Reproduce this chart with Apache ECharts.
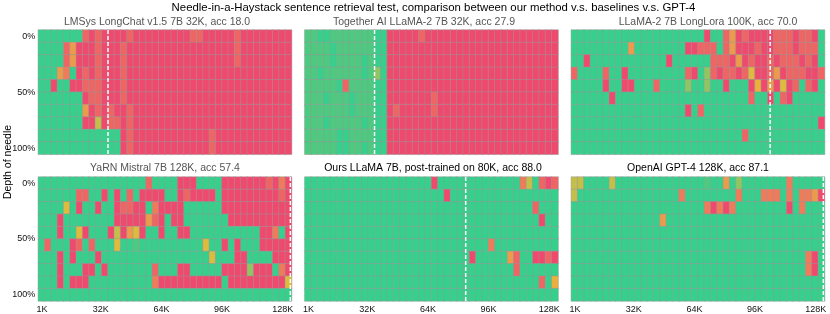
<!DOCTYPE html>
<html><head><meta charset="utf-8">
<script src="https://cdn.jsdelivr.net/npm/echarts@6/dist/echarts.min.js"></script>
<style>html,body{margin:0;padding:0;background:#fff}#c{width:830px;height:314px}</style>
</head><body><div id="c"></div>
<script>
// ---------------- data ----------------
const mainTitle = 'Needle-in-a-Haystack sentence retrieval test, comparison between our method v.s. baselines v.s. GPT-4';
const panelTitles = [
  'LMSys LongChat v1.5 7B 32K, acc 18.0',
  'Together AI LLaMA-2 7B 32K, acc 27.9',
  'LLaMA-2 7B LongLora 100K, acc 70.0',
  'YaRN Mistral 7B 128K, acc 57.4',
  'Ours LLaMA 7B, post-trained on 80K, acc 88.0',
  'OpenAI GPT-4 128K, acc 87.1'
];
const yAxisTitle = 'Depth of needle';
const trainLengthK = [32, 32, 100, 128, 80, 128];
const xTickValuesK = [1, 32, 64, 96, 128];
const yTickValuesPct = [0, 50, 100];
// scores: one string per needle depth (0% -> 100%), one digit per context length (1K -> 128K), 0 = fail ... 9 = perfect
const lmsys = [
  '9999999101000010000000001100000100000000',
  '9999130001000100000000000000000100000000',
  '9999130001000100000000000000000100000000',
  '9993290101000100000000000000000000000000',
  '9909900111000100000000000000000000000000',
  '9999999011000100000000000000000000000000',
  '9999999301010010000000000000000000000000',
  '9999999006011010000000000000000000000000',
  '9999999999999010000000000001000000000000',
  '9999999999999010000000000001000000000000'
];
const together = [
  '8899888888899000001000000000000000000000',
  '8888988888899000000000000000000000000000',
  '8888988889899000000000000000000000000000',
  '8898888889879000000000000000000000000000',
  '8888891888899000000000000000000000000000',
  '8889888988899000000010000000000000000000',
  '8888888988899010000010000000000000000000',
  '8889888889899000000000000000000000000000',
  '8888899888899000000000000000000000000000',
  '8888899889899000000000000000000000000000'
];
const longlora = [
  '9999999999999999999990991301000011101109',
  '9999999993999999990011191300010011101119',
  '9909999999999990999999111030100101110109',
  '1999919909999999991097101101500130111001',
  '9999909900999199997997990999040305019109',
  '9999990999999999999999999999199091099999',
  '9999999999999999990919999999999999999999',
  '9999999999999999999999999999999999999990',
  '9999999999999999999999999991999999999999',
  '9999999999999999999999999999999999999999'
];
const yarn = [
  '9999999999999999919999000999900000001020',
  '9999991199090919000099010000900000000010',
  '9999590990990110092000099999900000000000',
  '9990999999990000031090099999990000000000',
  '9990995099906035099099009999999999900290',
  '9199901919995998999999999959909099900000',
  '9990909990999999999999999995999009999000',
  '9990999009099999991999009999900007000920',
  '9990900099999999992000000000090000000005',
  '9999999999999999999999999999999999999999'
];
const ours = [
  '9999999999999999999909999999999999269101',
  '9999999999999999999999099999999999999999',
  '9999999999999999999999999999999999991999',
  '9999999999999999999999999999999999999099',
  '9999999999999999999999999999999999999999',
  '9999999999999999999999999999929999999999',
  '9999999999999999999999999909999931990010',
  '9999999999999999999999999999999991999999',
  '9999999999999999999999999999999999999194',
  '9999999999999999999999999999999999999999'
];
const gpt4 = [
  '6699996999999999999998993979999999299999',
  '6999999999999999929999999929992229292230',
  '9999999999999999999992020299999999092999',
  '9999999999999939999999999999999999999999',
  '9999999999999999999999999999999999999999',
  '9999999999999999999999999999999999999999',
  '9999999999999999999999999999999999999209',
  '9999999999999999999999999999999999999209',
  '9999999999999999999999999999999999999999',
  '9999999999999999999999999999999999999999'
];
const panels = [lmsys, together, longlora, yarn, ours, gpt4];

// ---------------- layout / style ----------------
const FONT = '"Liberation Sans", Arial, Helvetica, sans-serif';
const scoreColors = ['#F0496E', '#EE6563', '#EE7B5A', '#EC9A4B', '#EBAF3D', '#DDBB3E', '#C4BF4A', '#8FC663', '#4CCA7F', '#35D08B'];
const colLeft = [38.3, 304.8, 571.3];
const rowTop = [30, 177];
const gridW = 253.3;
const gridH = [124.3, 124.7];
const titleCenters = [157, 424, 708, 165, 433, 698];
const titleColors = ['#555', '#555', '#555', '#555', '#000', '#000'];
const labelXRange = [-1.005, 132.68];   // tick-label scale in K
const lineXRange = [-4.725, 128.667];   // training-length marker scale in K
const depthRange = [-5.5556, 105.5556]; // depth %: 0% at first row centre, 100% at last row centre

const nCols = panels[0][0].length, nRows = panels[0].length;
const colCats = Array.from({length: nCols}, (_, k) => String(k));
const rowCats = Array.from({length: nRows}, (_, k) => String(k));
const tickStyle = {show: true, interval: 0, alignWithLabel: true, length: 2, lineStyle: {color: '#bdbdbd', width: 0.8}};

const grid = [], xAxis = [], yAxis = [], series = [], graphic = [];
panels.forEach((rows, i) => {
  const c = i % 3, r = Math.floor(i / 3);
  grid.push({left: colLeft[c], top: rowTop[r], width: gridW, height: gridH[r]});
  xAxis.push({type: 'category', gridIndex: i, data: colCats, position: 'bottom',
    axisLine: {show: false}, axisLabel: {show: false}, splitLine: {show: false}, axisTick: tickStyle});
  xAxis.push({type: 'value', gridIndex: i, min: labelXRange[0], max: labelXRange[1], position: 'bottom',
    axisLine: {show: false}, axisTick: {show: false}, splitLine: {show: false},
    axisLabel: {show: r === 1, customValues: xTickValuesK, formatter: v => v + 'K', fontSize: 9, color: '#111', fontFamily: FONT, margin: 4}});
  xAxis.push({type: 'value', gridIndex: i, min: lineXRange[0], max: lineXRange[1], show: false});
  yAxis.push({type: 'category', gridIndex: i, data: rowCats, inverse: true, position: 'left',
    axisLine: {show: false}, axisLabel: {show: false}, splitLine: {show: false}, axisTick: tickStyle});
  yAxis.push({type: 'value', gridIndex: i, min: depthRange[0], max: depthRange[1], inverse: true, position: 'left',
    axisLine: {show: false}, axisTick: {show: false}, splitLine: {show: false},
    axisLabel: {show: c === 0, customValues: yTickValuesPct, formatter: v => v + '%', fontSize: 9, color: '#111', fontFamily: FONT, margin: 3}});

  const data = [];
  rows.forEach((s, y) => { for (let x = 0; x < s.length; x++) data.push([x, y, +s[x]]); });
  series.push({type: 'heatmap', xAxisIndex: 3 * i, yAxisIndex: 2 * i, data,
    itemStyle: {borderColor: '#999999', borderWidth: 0.5}, emphasis: {disabled: true}, silent: true});
  series.push({type: 'line', xAxisIndex: 3 * i + 2, yAxisIndex: 2 * i + 1, symbol: 'none', silent: true, z: 10,
    data: [[trainLengthK[i], depthRange[0]], [trainLengthK[i], depthRange[1]]],
    lineStyle: {color: '#ffffff', width: 1.5, type: [4, 2]}});
  graphic.push({type: 'text', x: titleCenters[i], y: r === 0 ? 22 : 168.5,
    style: {text: panelTitles[i], fill: titleColors[i], font: '10.5px ' + FONT, textAlign: 'center', textVerticalAlign: 'middle'}});
});
graphic.push({type: 'text', x: 433.5, y: 7.5,
  style: {text: mainTitle, fill: '#000', font: '11.4px ' + FONT, textAlign: 'center', textVerticalAlign: 'middle'}});
graphic.push({type: 'text', x: 8, y: 162, rotation: Math.PI / 2,
  style: {text: yAxisTitle, fill: '#000', font: '10.5px ' + FONT, textAlign: 'center', textVerticalAlign: 'middle'}});

const chart = echarts.init(document.getElementById('c'), null, {renderer: 'canvas'});
chart.setOption({
  animation: false,
  backgroundColor: '#fff',
  grid, xAxis, yAxis, series, graphic,
  visualMap: {type: 'continuous', show: false, min: 0, max: 9, dimension: 2,
    seriesIndex: panels.map((_, i) => 2 * i),
    inRange: {color: scoreColors}}
});
</script></body></html>
